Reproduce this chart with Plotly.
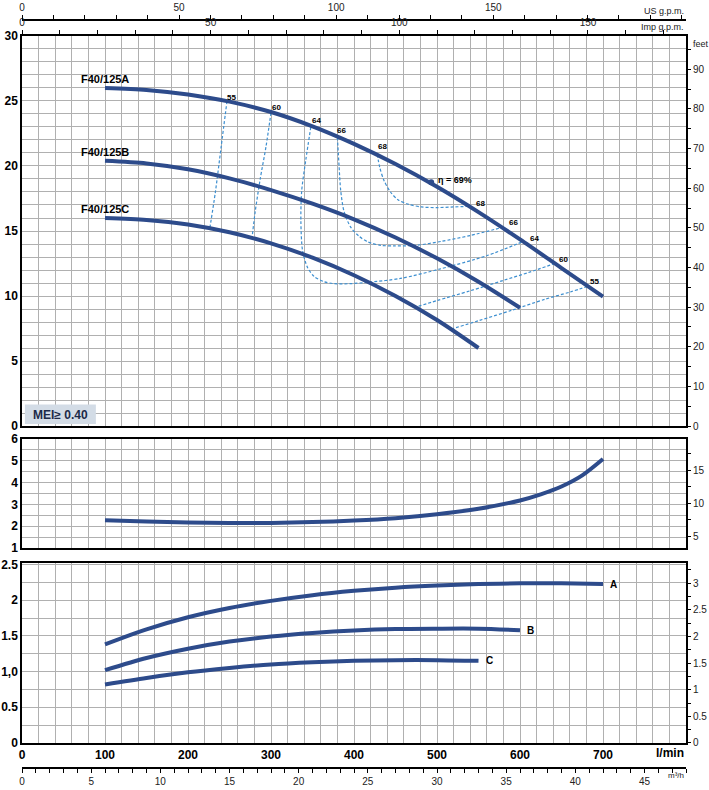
import plotly.graph_objects as go

# ---------------- data ----------------
Q = [100, 150, 200, 250, 300, 350, 400, 450, 500, 550, 600, 650, 700]          # l/min
H_A = [26.0, 25.85, 25.5, 24.95, 24.15, 23.05, 21.7, 20.15, 18.4, 16.45, 14.35, 12.15, 9.95]
Q_B = [100, 150, 200, 250, 300, 350, 400, 450, 500, 550, 600]
H_B = [20.4, 20.2, 19.75, 19.05, 18.15, 17.1, 15.9, 14.5, 12.9, 11.1, 9.1]
Q_C = [100, 150, 200, 250, 300, 350, 400, 450, 500, 550]
H_C = [16.0, 15.85, 15.5, 14.9, 14.05, 12.95, 11.6, 10.0, 8.15, 6.0]

NPSH_Q = [100, 150, 200, 250, 300, 350, 400, 450, 500, 550, 600, 625, 650, 675, 700]
NPSH = [2.27, 2.22, 2.17, 2.15, 2.15, 2.19, 2.26, 2.37, 2.55, 2.80, 3.18, 3.46, 3.82, 4.33, 5.08]

P_A = [1.38, 1.59, 1.76, 1.89, 1.99, 2.07, 2.13, 2.175, 2.205, 2.225, 2.235, 2.235, 2.225]
P_B = [1.02, 1.19, 1.32, 1.42, 1.49, 1.54, 1.575, 1.595, 1.60, 1.60, 1.58]
P_C = [0.82, 0.91, 0.99, 1.05, 1.10, 1.13, 1.15, 1.16, 1.16, 1.15]

# efficiency iso-lines (q l/min, H m)
EFF_55L_Q = [247, 240, 233, 226]
EFF_55L_H = [25.0, 21.5, 18.0, 15.1]
EFF_60L_Q = [300, 294, 287, 281, 277]
EFF_60L_H = [24.1, 21.5, 19.0, 16.5, 14.4]
EFF_64_Q = [348, 342, 337, 336, 338, 344, 352, 364, 376, 395, 416, 456, 505, 560, 604]
EFF_64_H = [23.0, 20.5, 18.1, 15.8, 13.5, 12.2, 11.5, 11.1, 10.95, 10.95, 11.05, 11.35, 12.1, 13.1, 14.2]
EFF_66_Q = [380, 382, 384, 388, 396, 406, 417, 432, 448, 475, 505, 540, 580]
EFF_66_H = [22.2, 20.0, 18.1, 16.5, 15.3, 14.6, 14.15, 13.9, 13.85, 13.9, 14.2, 14.65, 15.3]
EFF_68_Q = [428, 431, 436, 444, 453, 466, 481, 500, 520, 541]
EFF_68_H = [20.9, 19.9, 18.9, 18.0, 17.4, 17.05, 16.85, 16.8, 16.85, 16.9]
EFF_60R_Q = [472, 500, 540, 580, 610, 642]
EFF_60R_H = [9.1, 9.65, 10.4, 11.2, 11.8, 12.5]
EFF_55R_Q = [517, 550, 590, 630, 660, 682]
EFF_55R_H = [7.45, 8.1, 8.9, 9.75, 10.3, 10.75]

EFF_LABELS = ["55", "60", "64", "66", "68", "68", "66", "64", "60", "55"]
EFF_LABEL_Q = [252, 307, 355, 385, 434, 553, 592, 618, 653, 690]
EFF_LABEL_H = [25.25, 24.5, 23.5, 22.7, 21.5, 17.1, 15.65, 14.45, 12.8, 11.1]
BEP_Q, BEP_H, BEP_TEXT = 493, 18.75, "η = 69%"

CURVE_NAMES = ["F40/125A", "F40/125B", "F40/125C"]
POWER_NAMES = ["A", "B", "C"]

LMIN_TICKS = [0, 100, 200, 300, 400, 500, 600, 700]
KW_TICKS = [0, 0.5, 1.0, 1.5, 2.0, 2.5]
KW_TEXT = ["0", "0.5", "1,0", "1.5", "2", "2.5"]
HP_TICKS = [0, 0.5, 1, 1.5, 2, 2.5, 3]
HP_TEXT = ["0", "0.5", "1", "1.5", "2", "2.5", "3"]
GPM_TICKS = [0, 50, 100, 150]
M3H_TICKS = [0, 5, 10, 15, 20, 25, 30, 35, 40, 45]

# ---------------- style ----------------
CURVE = "#2d4b8b"
DASH = "#3d8fd0"
GRID = "#b0b0b0"
FONT = "Liberation Sans, Arial"
BOLD = dict(family=FONT, size=12, color="black", weight="bold")
THIN = dict(family=FONT, size=10, color="#222")

fig = go.Figure()


def line(x, y, xa, ya, color=CURVE, width=4, dash="solid"):
    fig.add_trace(go.Scatter(x=x, y=y, xaxis=xa, yaxis=ya, mode="lines",
                             line=dict(color=color, width=width, dash=dash,
                                       shape="spline", smoothing=0.8),
                             hoverinfo="skip", showlegend=False))


# efficiency lines (under the curves)
for qq, hh in [(EFF_55L_Q, EFF_55L_H), (EFF_60L_Q, EFF_60L_H), (EFF_64_Q, EFF_64_H),
               (EFF_66_Q, EFF_66_H), (EFF_68_Q, EFF_68_H), (EFF_60R_Q, EFF_60R_H),
               (EFF_55R_Q, EFF_55R_H)]:
    line(qq, hh, "x3", "y5", color=DASH, width=1.2, dash="3px,2px")

line(Q, H_A, "x3", "y5")
line(Q_B, H_B, "x3", "y5")
line(Q_C, H_C, "x3", "y5")
line(NPSH_Q, NPSH, "x2", "y3")
line(Q, P_A, "x", "y")
line(Q_B, P_B, "x", "y")
line(Q_C, P_C, "x", "y")

fig.add_trace(go.Scatter(x=[BEP_Q], y=[BEP_H], xaxis="x3", yaxis="y5", mode="markers",
                         marker=dict(color=CURVE, size=6), hoverinfo="skip", showlegend=False))

# dummy traces so that secondary axes are drawn
for xa, ya in [("x", "y2"), ("x2", "y4"), ("x3", "y6"), ("x4", "y5"), ("x5", "y5"), ("x6", "y")]:
    fig.add_trace(go.Scatter(x=[None], y=[None], xaxis=xa, yaxis=ya, mode="lines",
                             hoverinfo="skip", showlegend=False))

M2FT = 3.28084
KW2HP = 1.34102
L_PER_USG = 3.78541
L_PER_IMPG = 4.54609

frame = dict(showline=True, linecolor="black", linewidth=1.5, mirror=True, zeroline=False,
             automargin=False)
gridx = dict(showgrid=True, gridcolor=GRID, gridwidth=1,
             minor=dict(dtick=20, tick0=0, showgrid=True, gridcolor=GRID, gridwidth=1))
sec = dict(ticks="outside", ticklen=4, tickcolor="black", showgrid=False, zeroline=False,
           automargin=False)

D_BOT = [0.0541, 0.2857]
D_MID = [0.3050, 0.4453]
D_TOP = [0.4620, 0.9640]
P_USG = 0.9846
P_M3H = 0.0219

fig.update_layout(
    width=709, height=790,
    margin=dict(l=22, r=23, t=8, b=5),
    paper_bgcolor="white", plot_bgcolor="white",
    showlegend=False,
    xaxis=dict(domain=[0, 1], anchor="y", range=[0, 800], tickmode="array", tickvals=LMIN_TICKS,
               ticks="", tickfont=BOLD, **frame, **gridx),
    yaxis=dict(domain=D_BOT, anchor="x", range=[0, 2.52], tickmode="array", tickvals=KW_TICKS,
               ticktext=KW_TEXT, ticks="", tickfont=BOLD, showgrid=True, gridcolor=GRID,
               minor=dict(dtick=0.25, tick0=0, showgrid=True, gridcolor=GRID), **frame),
    yaxis2=dict(overlaying="y", anchor="x", side="right", range=[0, 2.52 * KW2HP],
                tickmode="array", tickvals=HP_TICKS, ticktext=HP_TEXT, tickfont=THIN,
                minor=dict(dtick=0.25, tick0=0, ticks="outside", ticklen=4, tickcolor="black"),
                **sec),
    xaxis2=dict(domain=[0, 1], anchor="y3", matches="x", range=[0, 800], showticklabels=False,
                ticks="", **frame, **gridx),
    yaxis3=dict(domain=D_MID, anchor="x2", range=[1, 6], tickmode="array",
                tickvals=[1, 2, 3, 4, 5, 6], ticks="", tickfont=BOLD, showgrid=True,
                gridcolor=GRID, minor=dict(dtick=0.5, tick0=0, showgrid=True, gridcolor=GRID),
                **frame),
    yaxis4=dict(overlaying="y3", anchor="x2", side="right", range=[1 * M2FT, 6 * M2FT],
                tickmode="array", tickvals=[5, 10, 15], tickfont=THIN,
                minor=dict(dtick=2.5, tick0=0, ticks="outside", ticklen=4, tickcolor="black"),
                **sec),
    xaxis3=dict(domain=[0, 1], anchor="y5", matches="x", range=[0, 800], showticklabels=False,
                ticks="", **frame, **gridx),
    yaxis5=dict(domain=D_TOP, anchor="x3", range=[0, 30], dtick=5, tick0=0, ticks="",
                tickfont=BOLD, showgrid=True, gridcolor=GRID,
                minor=dict(dtick=1, tick0=0, showgrid=True, gridcolor=GRID), **frame),
    yaxis6=dict(overlaying="y5", anchor="x3", side="right", range=[0, 30 * M2FT], dtick=10,
                tick0=0, tickfont=THIN,
                minor=dict(dtick=5, tick0=0, ticks="outside", ticklen=4, tickcolor="black"),
                **sec),
    xaxis4=dict(overlaying="x3", anchor="y5", side="top", range=[0, 800 / L_PER_IMPG],
                tickmode="array", tickvals=GPM_TICKS, tickfont=THIN, showline=True,
                linecolor="black", linewidth=1.5,
                minor=dict(dtick=10, tick0=0, ticks="outside", ticklen=4, tickcolor="black"),
                **sec),
    xaxis5=dict(overlaying="x3", anchor="free", position=P_USG, side="top",
                range=[0, 800 / L_PER_USG], tickmode="array", tickvals=GPM_TICKS,
                tickfont=THIN, showline=True, linecolor="black", linewidth=1.5,
                minor=dict(dtick=10, tick0=0, ticks="outside", ticklen=4, tickcolor="black"),
                **sec),
    xaxis6=dict(overlaying="x", anchor="free", position=P_M3H, side="bottom",
                range=[0, 48], tickmode="array", tickvals=M3H_TICKS, tickfont=THIN,
                showline=True, linecolor="black", linewidth=1.5,
                minor=dict(dtick=1, tick0=0, ticks="outside", ticklen=4, tickcolor="black"),
                **sec),
)

ann = []
# pump curve names
for name, hv in zip(CURVE_NAMES, [H_A[0], H_B[0], H_C[0]]):
    ann.append(dict(x=100, y=hv, xref="x3", yref="y5", text=name, showarrow=False,
                    xanchor="center", yanchor="middle", yshift=9,
                    font=dict(family=FONT, size=11, color="black", weight="bold")))
# efficiency labels
for t, qx, hy in zip(EFF_LABELS, EFF_LABEL_Q, EFF_LABEL_H):
    ann.append(dict(x=qx, y=hy, xref="x3", yref="y5", text=t, showarrow=False,
                    font=dict(family=FONT, size=8, color="black", weight="bold")))
ann.append(dict(x=BEP_Q, y=BEP_H, xref="x3", yref="y5", text=BEP_TEXT, showarrow=False,
                xanchor="left", xshift=5, yshift=2,
                font=dict(family=FONT, size=9, color="black", weight="bold")))
# power labels
for name, qq, pp in zip(POWER_NAMES, [Q, Q_B, Q_C], [P_A, P_B, P_C]):
    ann.append(dict(x=qq[-1], y=pp[-1], xref="x", yref="y", text=name, showarrow=False,
                    xanchor="left", xshift=5,
                    font=dict(family=FONT, size=10, color="black", weight="bold")))
# unit labels
ann.append(dict(x=1.0, y=D_BOT[0], xref="paper", yref="paper", text="l/min", showarrow=False,
                xanchor="right", yanchor="top", yshift=-1,
                font=dict(family=FONT, size=12, color="black", weight="bold")))
ann.append(dict(x=1.0, y=P_M3H, xref="paper", yref="paper", text="m³/h", showarrow=False,
                xanchor="right", yanchor="top", yshift=-1,
                font=dict(family=FONT, size=8, color="#222")))
ann.append(dict(x=1.0, y=D_TOP[1], xref="paper", yref="paper", text="Imp g.p.m.",
                showarrow=False, xanchor="right", yanchor="middle", yshift=9,
                font=dict(family=FONT, size=9, color="#222")))
ann.append(dict(x=1.0, y=P_USG, xref="paper", yref="paper", text="US g.p.m.",
                showarrow=False, xanchor="right", yanchor="middle", yshift=9,
                font=dict(family=FONT, size=9, color="#222")))
ann.append(dict(x=1.0, y=D_TOP[1], xref="paper", yref="paper", text="feet",
                showarrow=False, xanchor="left", yanchor="top", xshift=5, yshift=-1,
                font=dict(family=FONT, size=9, color="#222")))
# MEI box
ann.append(dict(x=46, y=0.88, xref="x3", yref="y5", text="MEI≥ 0.40", showarrow=False,
                font=dict(family=FONT, size=12, color="#1c2a48", weight="bold")))
fig.update_layout(annotations=ann)
fig.add_shape(type="rect", xref="x3", yref="y5", x0=3.5, x1=89, y0=0.15, y1=1.65,
              fillcolor="#d3dce6", line=dict(width=0), layer="between")

fig.write_html("out.html", config={"displayModeBar": False},
               post_script="document.body.style.margin='0';document.body.style.padding='0';"
                           "document.body.style.overflow='hidden';")
